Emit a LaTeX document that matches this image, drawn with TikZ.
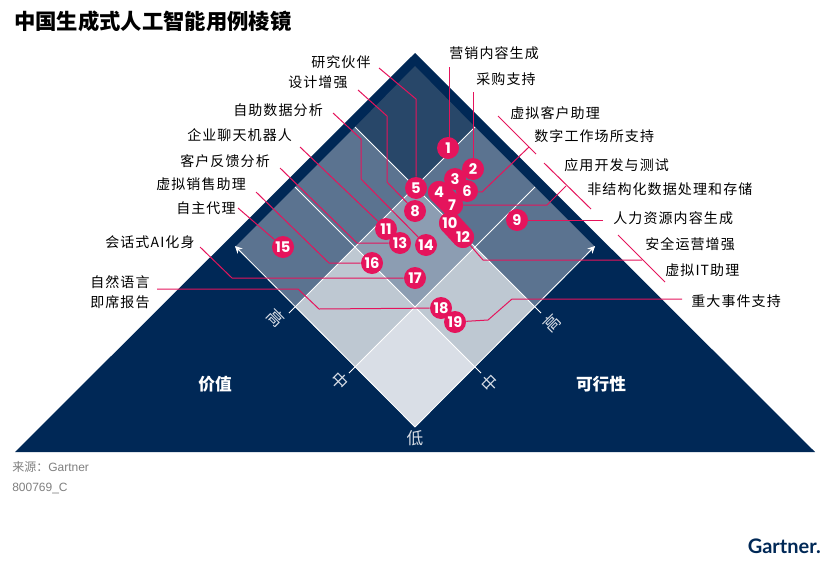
\documentclass[tikz,border=0pt]{standalone}
\usepackage{fontspec}
\usepackage{xcolor}
\usetikzlibrary{arrows.meta}
\setmainfont{Noto Sans CJK SC}[LetterSpace=8]
\newfontfamily\titlefont{Noto Sans CJK SC}
\newfontfamily\numfont{Poppins}
\newfontfamily\notefont{Liberation Sans}
\newfontfamily\notecjk{Noto Sans CJK SC}
\newfontfamily\logofont{Lato}
\definecolor{gnavy}   {HTML}{002856}
\definecolor{gtop}    {HTML}{284769}
\definecolor{gmid}    {HTML}{5B7390}
\definecolor{gcentre} {HTML}{8C9DB2}
\definecolor{glight}  {HTML}{BEC8D2}
\definecolor{glow}    {HTML}{D9DEE6}
\definecolor{gpink}   {HTML}{E5145C}
\definecolor{ggrey}   {HTML}{7F7F7F}
\pgfdeclarelayer{bands}
\pgfdeclarelayer{balls}
\pgfsetlayers{main,bands,balls}
\begin{document}
\begin{tikzpicture}[
  x=0.75pt, y=-0.75pt,
  every node/.style={font=\fontsize{10.5}{12}\selectfont, inner sep=0pt},
  lab/.style={anchor=west, text=black},
  ball/.style={circle, fill=gpink, text=white, minimum size=16.5pt,
               font=\numfont\bfseries\fontsize{11}{12}\selectfont},
  lead/.style={draw=gpink, line width=0.75pt},
  band/.style={draw=gpink, line width=16.5pt, line cap=round},
  grid/.style={draw=white, line width=0.6pt},
  axis/.style={text=glow, font=\fontsize{12.5}{14}\selectfont},
  side/.style={text=white, font=\titlefont\bfseries\fontsize{12.5}{14}\selectfont},
  note/.style={anchor=west, text=ggrey, font=\notefont\fontsize{9}{11}\selectfont},
]
\useasboundingbox (0,0) rectangle (837,564);

% prism
\fill[gnavy] (415,53)--(815,452)--(15,452)--cycle;
\fill[gtop] (415,66)--(475,127)--(415,187)--(355,127)--cycle;
\fill[gmid] (355,127)--(415,187)--(355,247)--(295,187)--cycle;
\fill[gmid] (475,127)--(535,187)--(475,247)--(415,187)--cycle;
\fill[gmid] (295,187)--(355,247)--(295,307)--(235,247)--cycle;
\fill[gmid] (535,187)--(595,247)--(535,307)--(475,247)--cycle;
\fill[gcentre] (415,187)--(475,247)--(415,307)--(355,247)--cycle;
\fill[glight] (355,247)--(415,307)--(355,367)--(295,307)--cycle;
\fill[glight] (475,247)--(535,307)--(475,367)--(415,307)--cycle;
\fill[glow] (415,307)--(475,367)--(415,427)--(355,367)--cycle;

% grid lines and axes
\coordinate (hiL) at (289,313);
\coordinate (hiR) at (541,313);
\coordinate (miL) at (349,373);
\coordinate (miR) at (481,373);
\coordinate (topL) at (355,127);
\coordinate (topR) at (475,127);
\coordinate (upL) at (295,187);
\coordinate (upR) at (535,187);
\coordinate (tipL) at (235,246);
\coordinate (tipR) at (595,246);
\coordinate (lowB) at (415,427);
\draw[grid] (topL)--(hiR);
\draw[grid] (upL)--(miR);
\draw[grid] (topR)--(hiL);
\draw[grid] (upR)--(miL);
\draw[grid, -{Stealth[length=5.5pt,width=5.5pt]}] (lowB)--(tipL);
\draw[grid, -{Stealth[length=5.5pt,width=5.5pt]}] (lowB)--(tipR);

% balls
\begin{pgfonlayer}{balls}
\node[ball](b1) at (448,148) {1};
\node[ball](b2) at (473,169) {2};
\node[ball](b3) at (455,179) {3};
\node[ball](b4) at (439,192) {4};
\node[ball](b5) at (416,188) {5};
\node[ball](b6) at (467,191) {6};
\node[ball](b7) at (452,205) {7};
\node[ball](b8) at (415,211) {8};
\node[ball](b9) at (517,220) {9};
\node[ball](b10) at (450,223) {10};
\node[ball](b11) at (386,229) {11};
\node[ball](b12) at (463,237) {12};
\node[ball](b13) at (400,243) {13};
\node[ball](b14) at (426,245) {14};
\node[ball](b15) at (283,247) {15};
\node[ball](b16) at (372,263) {16};
\node[ball](b17) at (415,278) {17};
\node[ball](b18) at (441,308) {18};
\node[ball](b19) at (455,322) {19};
\end{pgfonlayer}

\begin{pgfonlayer}{bands}
\draw[band](b4.center)--(b7.center);
\draw[band](b10.center)--(b12.center);
\end{pgfonlayer}

% free ends of the leaders
\coordinate (e1) at (449,67);
\coordinate (e2) at (473,92);
\coordinate (e5) at (379,68);
\coordinate (e8) at (358,90);
\coordinate (e14) at (333,113);
\coordinate (e11) at (300,147);
\coordinate (e13) at (280,168);
\coordinate (e16) at (256,192);
\coordinate (e15) at (238,208);
\coordinate (e17) at (200,247);
\coordinate (e18) at (157,289);
\coordinate (e6) at (529,147);
\coordinate (e7) at (566,186);
\coordinate (e9) at (603,220);
\coordinate (e12) at (642,260);
\coordinate (e19) at (682,299);
\coordinate (brA1) at (498,116);
\coordinate (brA2) at (536,154);
\coordinate (brB1) at (544,163);
\coordinate (brB2) at (591,209);
\coordinate (brC1) at (618,235);
\coordinate (brC2) at (665,282);

\draw[lead](e1)--(e1|-b1);
\draw[lead](e2)--(b2);
\draw[lead](e5)--(416,99)--(b5);
\draw[lead](e8)--(387,116)--(387,182)--(b8);
\draw[lead](e14)--(361,139)--(361,179)--(b14);
\draw[lead](e11)--(b11);
\draw[lead](e13)--(357,243)--(b13);
\draw[lead](e16)--(329,263)--(b16);
\draw[lead](e15)--(b15);
\draw[lead](e17)--(232,278)--(b17);
\draw[lead](e18)--(298,289)--(319,309)--(b18);
\draw[lead](e6)--(482,192)--(b6);
\draw[lead](e7)--(547,205)--(b7);
\draw[lead](e9)--(b9);
\draw[lead](e12)--(483,260)--(b12);
\draw[lead](e19)--(512,299)--(488,320)--(b19);
\draw[lead](brA1)--(brA2);
\draw[lead](brB1)--(brB2);
\draw[lead](brC1)--(brC2);

% labels
\node[anchor=west, font=\titlefont\bfseries\fontsize{16}{18}\selectfont](title) at (14,21) {中国生成式人工智能用例棱镜};
\node[lab](l5) at (311,62) {研究伙伴};
\node[lab](l8) at (288,82) {设计增强};
\node[lab](l14) at (233,110) {自助数据分析};
\node[lab](l11) at (187,135) {企业聊天机器人};
\node[lab](l13) at (180,161) {客户反馈分析};
\node[lab](l16) at (156,184) {虚拟销售助理};
\node[lab](l15) at (176,208) {自主代理};
\node[lab](l17) at (105,242) {会话式AI化身};
\node[lab](l18a) at (90,282) {自然语言};
\node[lab](l18b) at (90,302) {即席报告};
\node[lab](l1) at (449,53) {营销内容生成};
\node[lab](l2) at (476,79) {采购支持};
\node[lab](l3) at (510,113) {虚拟客户助理};
\node[lab](l4) at (534,136) {数字工作场所支持};
\node[lab](l6) at (564,165) {应用开发与测试};
\node[lab](l7) at (587,189) {非结构化数据处理和存储};
\node[lab](l9) at (613,218) {人力资源内容生成};
\node[lab](l10) at (645,244) {安全运营增强};
\node[lab](l12) at (665,270) {虚拟IT助理};
\node[lab](l19) at (691,301) {重大事件支持};

\node[side](val) at (215,384) {价值};
\node[side](fea) at (601,384) {可行性};
\node[axis, rotate=-45](axL3) at (276,318) {高};
\node[axis, rotate=-45](axL2) at (340,381) {中};
\node[axis, rotate=45](axR3) at (552,323) {高};
\node[axis, rotate=45](axR2) at (490,383) {中};
\node[axis](axLow) at (415,438) {低};

\node[note](src) at (12,467) {{\notecjk 来源：}Gartner};
\node[note](code) at (12,488) {800769\_C};
\node[anchor=east, text=gnavy, font=\logofont\bfseries\fontsize{15}{17}\selectfont](logo) at (821,546) {Gartner.};
\end{tikzpicture}
\end{document}
